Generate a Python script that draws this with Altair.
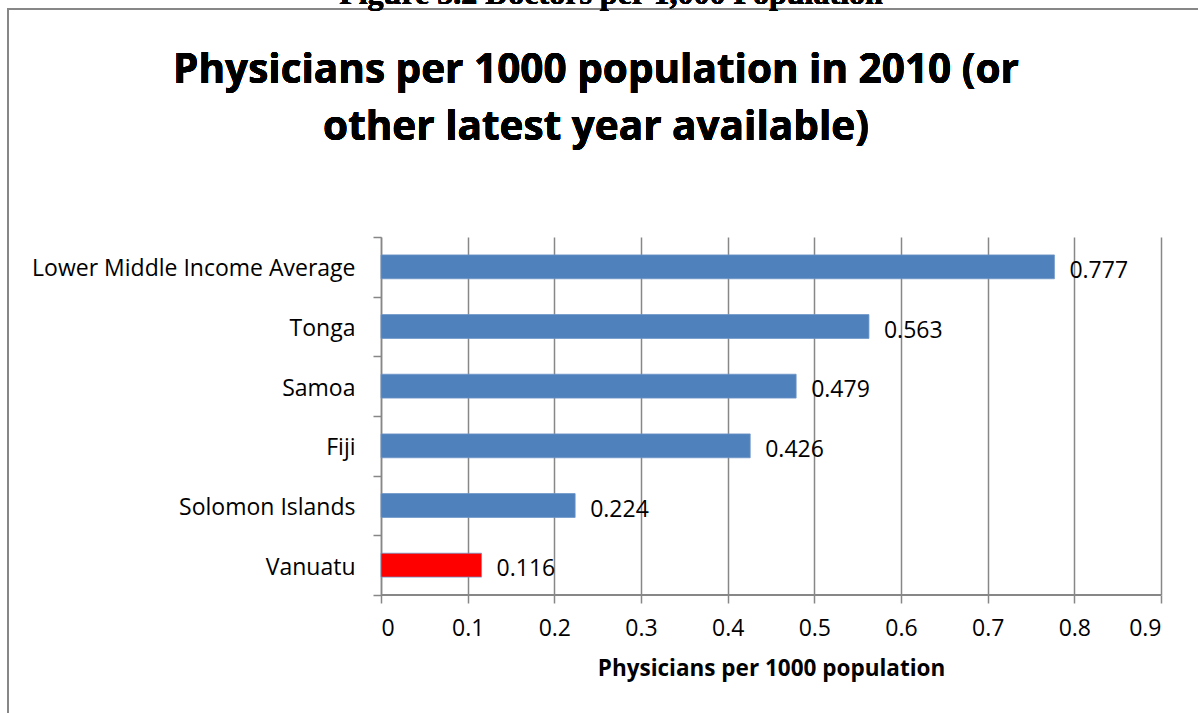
import altair as alt
import pandas as pd

# Physicians per 1000 population, most recent year available
countries = ["Lower Middle Income Average", "Tonga", "Samoa", "Fiji",
             "Solomon Islands", "Vanuatu"]
physicians = [0.777, 0.563, 0.479, 0.426, 0.224, 0.116]
bar_colors = ["#4F81BD", "#4F81BD", "#4F81BD", "#4F81BD", "#4F81BD", "#FF0000"]
x_ticks = [0, 0.1, 0.2, 0.3, 0.4, 0.5, 0.6, 0.7, 0.8, 0.9]

title_lines = ["Physicians per 1000 population in 2010 (or",
               "other latest year available)"]
figure_caption = "Figure 5.2 Doctors per 1,000 Population"

df = pd.DataFrame({
    "country": countries,
    "value": physicians,
    "color": bar_colors,
    "label": [f"{v:.3f}" for v in physicians],
})

FONT = "Open Sans"
GRID = "#878787"
TXT = 23

# plot area geometry (pixels)
PLOT_W, PLOT_H = 780, 358
PAD_L, PAD_T = 381, 237
PAD_R, PAD_B = 1198 - PAD_L - PLOT_W, 713 - PAD_T - PLOT_H

x_enc = alt.X(
    "value:Q",
    scale=alt.Scale(domain=[0, 0.9], nice=False),
    axis=alt.Axis(
        values=x_ticks, format="~g", title="Physicians per 1000 population",
        grid=True, gridColor=GRID, gridWidth=1.5,
        domain=False, ticks=True, tickColor=GRID, tickWidth=1.5, tickSize=8,
        labelFont=FONT, labelFontSize=TXT, labelColor="#000000", labelPadding=14,
        titleFont=FONT, titleFontSize=22.5, titleFontWeight="bold",
        titleColor="#000000", titlePadding=17,
    ),
)
# categories fill whole bands so the ticks sit between them
y_enc = alt.Y(
    "country:N", sort=countries,
    scale=alt.Scale(paddingInner=0, paddingOuter=0),
    axis=alt.Axis(
        title=None, domain=True, domainColor=GRID, domainWidth=1.5,
        ticks=True, tickBand="extent", tickColor=GRID, tickWidth=1.5, tickSize=8,
        grid=False, labelFont=FONT, labelFontSize=TXT, labelColor="#000000",
        labelPadding=18, labelLimit=0, labelOffset=2,
    ),
)

bars = alt.Chart(df).mark_bar(
    height=alt.RelativeBandSize(0.4), stroke="#6E96C8", strokeWidth=0.8,
).encode(
    x=x_enc, y=y_enc,
    color=alt.Color("color:N", scale=None),
)

labels = alt.Chart(df).mark_text(
    align="left", baseline="middle", dx=15, dy=4,
    font=FONT, fontSize=TXT, color="#000000",
).encode(
    x="value:Q", y=alt.Y("country:N", sort=countries), text="label:N",
)

# x-axis baseline across the plot bottom
x_base = alt.Chart(df).mark_rule(color=GRID, strokeWidth=1.5).encode(
    x=alt.value(0), x2=alt.value(PLOT_W), y=alt.value(PLOT_H),
)

# outer frame of the figure
frame = alt.Chart(df).mark_rect(
    fill=None, stroke=GRID, strokeWidth=2,
).encode(
    x=alt.value(8 - PAD_L), x2=alt.value(1260 - PAD_L),
    y=alt.value(9 - PAD_T), y2=alt.value(780 - PAD_T),
)

caption = alt.Chart(df).mark_text(
    align="center", baseline="alphabetic", font="Liberation Serif",
    fontWeight="bold", fontSize=32, color="#000000",
).encode(
    x=alt.value(611 - PAD_L), y=alt.value(4 - PAD_T),
    text=alt.value(figure_caption),
)

title = alt.Chart(df).mark_text(
    align="center", baseline="alphabetic", font=FONT, fontWeight="bold",
    fontSize=40.5, lineHeight=57, color="#000000",
).encode(
    x=alt.value(596 - PAD_L), y=alt.value(83 - PAD_T),
    text=alt.value(title_lines),
)

chart = alt.layer(frame, caption, title, bars, x_base, labels).properties(
    width=PLOT_W, height=PLOT_H,
    padding={"left": PAD_L, "top": PAD_T, "right": PAD_R, "bottom": PAD_B},
    autosize=alt.AutoSizeParams(type="none"),
    background="#FFFFFF",
).configure_view(stroke=None)

chart.save("out.html", embed_options={"renderer": "svg", "actions": False})
